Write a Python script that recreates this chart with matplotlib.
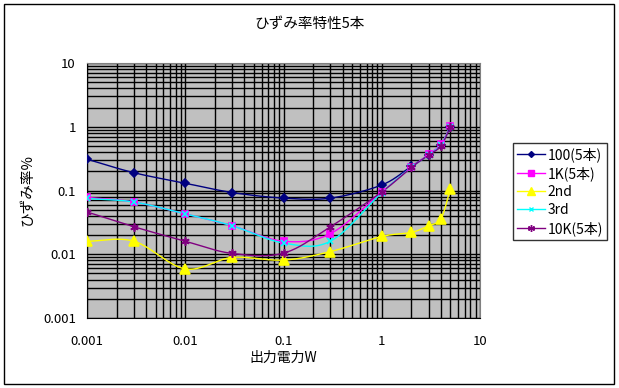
import numpy as np
import matplotlib
matplotlib.use("Agg")
import matplotlib.pyplot as plt
from matplotlib.patches import Rectangle

plt.rcParams['font.family'] = ['Noto Sans CJK JP', 'DejaVu Sans']

power_w = [0.001, 0.003, 0.01, 0.03, 0.1, 0.3, 1, 2, 3, 4, 5]
s_100 = [0.31, 0.19, 0.13, 0.093, 0.076, 0.076, 0.122, 0.24, 0.36, 0.52, 1.0]
s_1k = [0.078, 0.066, 0.043, 0.028, 0.016, 0.021, 0.095, 0.23, 0.37, 0.53, 1.02]
s_2nd = [0.016, 0.016, 0.0059, 0.0089, 0.0081, 0.011, 0.019, 0.022, 0.028, 0.036, 0.106]
s_3rd = [0.075, 0.066, 0.043, 0.028, 0.015, 0.016, 0.093, 0.23, 0.36, 0.52, 1.0]
s_10k = [0.046, 0.027, 0.016, 0.0103, 0.0104, 0.027, 0.095, 0.23, 0.36, 0.50, 1.0]

labels = ['100(5本)', '1K(5本)', '2nd', '3rd', '10K(5本)']
series = [s_100, s_1k, s_2nd, s_3rd, s_10k]
colors = ['#000080', '#FF00FF', '#FFFF00', '#00FFFF', '#800080']
markers = ['D', 's', '^', 'x', (6, 2, 0)]
msizes = [4, 5, 6.5, 4.5, 6]

x_ticks = [0.001, 0.01, 0.1, 1, 10]
x_ticklabels = ['0.001', '0.01', '0.1', '1', '10']
y_ticks = [0.001, 0.01, 0.1, 1, 10]
y_ticklabels = ['0.001', '0.01', '0.1', '1', '10']


def smooth(xs, ys, n=20):
    # Catmull-Rom smoothing in log-log space (like Excel smoothed lines)
    lx = np.log10(xs)
    ly = np.log10(ys)
    P = np.column_stack([lx, ly])
    P = np.vstack([P[0] - (P[1] - P[0]), P, P[-1] + (P[-1] - P[-2])])
    out = []
    t = np.linspace(0, 1, n, endpoint=False)
    for i in range(1, len(P) - 2):
        p0, p1, p2, p3 = P[i - 1], P[i], P[i + 1], P[i + 2]
        tt = t[:, None]
        c = 0.5 * ((2 * p1) + (-p0 + p2) * tt + (2 * p0 - 5 * p1 + 4 * p2 - p3) * tt ** 2
                   + (-p0 + 3 * p1 - 3 * p2 + p3) * tt ** 3)
        out.append(c)
    out.append(P[-2][None, :])
    out = np.vstack(out)
    return 10 ** out[:, 0], 10 ** out[:, 1]


fig = plt.figure(figsize=(6.19, 3.88), dpi=100)
fig.patches.append(Rectangle((4 / 619, 4 / 388), 610 / 619, 380 / 388, transform=fig.transFigure,
                             fill=False, edgecolor='black', linewidth=1))
ax = fig.add_axes([87 / 619, 1 - 318 / 388, 393 / 619, 255 / 388])
ax.set_facecolor('#C0C0C0')
ax.set_xscale('log')
ax.set_yscale('log')
ax.set_xlim(0.001, 10)
ax.set_ylim(0.001, 10)

ax.grid(True, which='both', color='black', linewidth=1.0)
ax.set_axisbelow(True)

for ys, lab, col, mk, ms in zip(series, labels, colors, markers, msizes):
    sx, sy = smooth(power_w, ys)
    ax.plot(sx, sy, color=col, linewidth=1.0, zorder=3)
    ax.plot(power_w, ys, linestyle='none', marker=mk, color=col, markersize=ms,
            markeredgewidth=1.2, zorder=4)
    ax.plot([], [], color=col, marker=mk, markersize=ms - 1, linewidth=1.0, label=lab)

ax.set_xticks(x_ticks)
ax.set_xticklabels(x_ticklabels)
ax.set_yticks(y_ticks)
ax.set_yticklabels(y_ticklabels)
ax.tick_params(which='both', length=0, labelsize=9.5, pad=8)
ax.tick_params(axis='x', pad=12)

for side in ['top', 'right']:
    ax.spines[side].set_color('#808080')
for side in ['left', 'bottom']:
    ax.spines[side].set_color('black')

fig.text(310 / 619, 1 - 24 / 388, 'ひずみ率特性5本', ha='center', va='center', fontsize=10.5)
fig.text(283 / 619, 1 - 358 / 388, '出力電力W', ha='center', va='center', fontsize=10)
fig.text(27 / 619, 1 - 190 / 388, 'ひずみ率%', ha='center', va='center', fontsize=10.5, rotation=90)

leg = fig.legend(loc='upper left', bbox_to_anchor=(513 / 619, 1 - 143 / 388), frameon=True,
                 fancybox=False, edgecolor='black', fontsize=10, handlelength=2.0,
                 handletextpad=0.2, borderpad=0.3, labelspacing=0.3, borderaxespad=0)
leg.get_frame().set_linewidth(1.0)

fig.savefig('out.png', dpi=100)
